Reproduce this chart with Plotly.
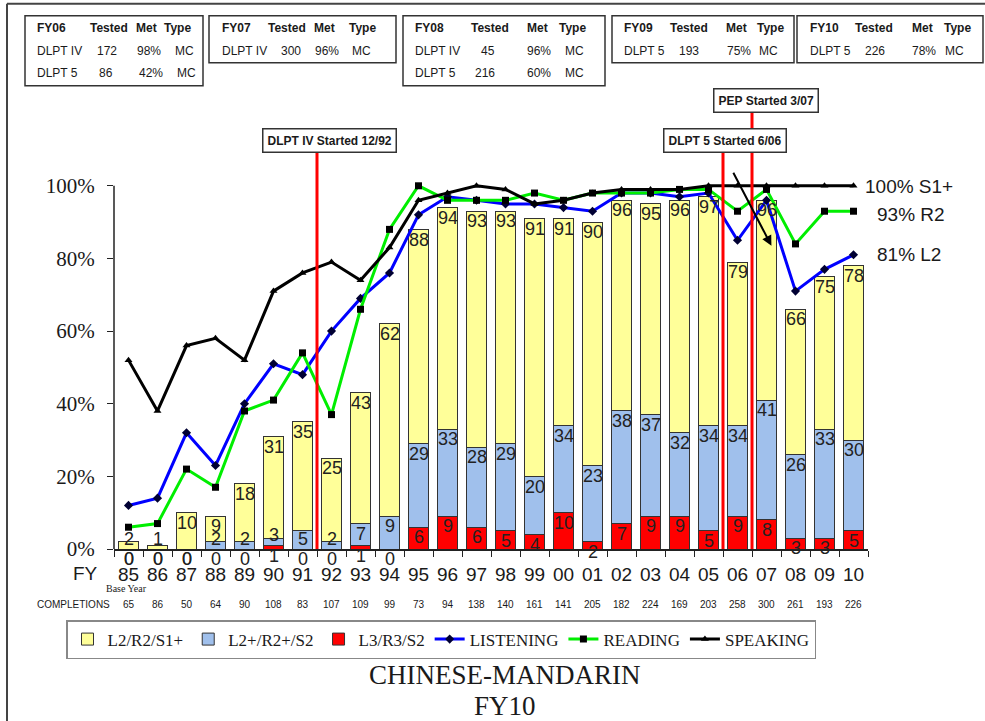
import plotly.graph_objects as go

# ---------------- data ----------------
years = ["85", "86", "87", "88", "89", "90", "91", "92", "93", "94", "95", "96", "97",
         "98", "99", "00", "01", "02", "03", "04", "05", "06", "07", "08", "09", "10"]
l2_pct = [2, 1, 10, 9, 18, 31, 35, 25, 43, 62, 88, 94, 93, 93, 91, 91, 90, 96, 95, 96, 97, 79, 96, 66, 75, 78]
l2plus_pct = [0, 0, 0, 2, 2, 3, 5, 2, 7, 9, 29, 33, 28, 29, 20, 34, 23, 38, 37, 32, 34, 34, 41, 26, 33, 30]
l3_pct = [0, 0, 0, 0, 0, 1, 0, 0, 1, 0, 6, 9, 6, 5, 4, 10, 2, 7, 9, 9, 5, 9, 8, 3, 3, 5]
listening = [12, 14, 32, 23, 40, 51, 48, 60, 69, 76, 92, 97, 96, 95, 95, 94, 93, 98, 98, 97, 98, 85, 96, 71, 77, 81]
reading = [6, 7, 22, 17, 38, 41, 54, 37, 66, 88, 100, 96, 96, 96, 98, 96, 98, 98, 98, 99, 99, 93, 99, 84, 93, 93]
speaking = [52, 38, 56, 58, 52, 71, 76, 79, 74, 83, 96, 98, 100, 99, 95, 96, 98, 99, 99, 99, 100, 100, 100, 100, 100, 100]
completions = [65, 86, 50, 64, 90, 108, 83, 107, 109, 99, 73, 94, 138, 140, 161, 141, 205, 182, 224, 169, 203,
               258, 300, 261, 193, 226]

y_ticks = [0, 20, 40, 60, 80, 100]
y_tick_text = ["0%", "20%", "40%", "60%", "80%", "100%"]

end_labels = ["100% S1+", "93% R2", "81% L2"]

box_headers = [["FY06", "Tested", "Met", "Type"],
               ["FY07", "Tested", "Met", "Type"],
               ["FY08", "Tested", "Met", "Type"],
               ["FY09", "Tested", "Met", "Type"],
               ["FY10", "Tested", "Met", "Type"]]
box_rows = [[["DLPT IV", "172", "98%", "MC"], ["DLPT 5", "86", "42%", "MC"]],
            [["DLPT IV", "300", "96%", "MC"]],
            [["DLPT IV", "45", "96%", "MC"], ["DLPT 5", "216", "60%", "MC"]],
            [["DLPT 5", "193", "75%", "MC"]],
            [["DLPT 5", "226", "78%", "MC"]]]

events = ["DLPT IV Started 12/92", "DLPT 5 Started 6/06", "PEP Started 3/07"]
event_pos = [6.5, 20.5, 21.5]  # category-axis positions between years

# ---------------- layout geometry (pixels) ----------------
W, H = 985, 721
L, R, T, B = 114, 868, 186, 549
YMAX = 100
YTOP = 106  # axis range top, so lines at 100% are not clipped
T_EFF = B - (B - T) * YTOP / YMAX


def px(x):
    return (x - L) / (R - L)


def py(y):
    return (B - y) / (B - T_EFF)


SANS = "Liberation Sans, Arial, sans-serif"
SERIF = "Liberation Serif, Times New Roman, serif"
INK = "#1a1a1a"

fig = go.Figure()

# stacked segments
red_seg = l3_pct
blue_seg = [b - r for b, r in zip(l2plus_pct, l3_pct)]
yellow_seg = [y - b for y, b in zip(l2_pct, l2plus_pct)]

fig.add_trace(go.Bar(x=years, y=red_seg, name="L3/R3/S2", marker=dict(color="#FF0000", line=dict(color="#333", width=1)),
                     legendrank=3, hoverinfo="skip"))
fig.add_trace(go.Bar(x=years, y=blue_seg, name="L2+/R2+/S2", marker=dict(color="#A0C0EC", line=dict(color="#333", width=1)),
                     legendrank=2, hoverinfo="skip"))
fig.add_trace(go.Bar(x=years, y=yellow_seg, name="L2/R2/S1+", marker=dict(color="#FFFF99", line=dict(color="#333", width=1)),
                     legendrank=1, hoverinfo="skip"))

# lines
fig.add_trace(go.Scatter(x=years, y=listening, name="LISTENING", mode="lines+markers",
                         line=dict(color="#0000FF", width=3),
                         marker=dict(symbol="diamond", size=7, color="#000033"),
                         legendrank=4, cliponaxis=False))
fig.add_trace(go.Scatter(x=years, y=reading, name="READING", mode="lines+markers",
                         line=dict(color="#00EE00", width=3),
                         marker=dict(symbol="square", size=7, color="#000000"),
                         legendrank=5, cliponaxis=False))
fig.add_trace(go.Scatter(x=years, y=speaking, name="SPEAKING", mode="lines+markers",
                         line=dict(color="#000000", width=3),
                         marker=dict(symbol="triangle-up", size=7, color="#000000"),
                         legendrank=6, cliponaxis=False))

shapes = []
annotations = []

# value labels (paper y so labels below the axis stay visible)
OFF = 2.8


def label_y(top, bottom, clamp):
    if top == bottom or not clamp:
        return top - OFF
    return max(top - OFF, bottom + OFF)


for i in range(len(years)):
    for val, yy in ((l3_pct[i], label_y(l3_pct[i], 0, False)),
                    (l2plus_pct[i], label_y(l2plus_pct[i], l3_pct[i], True)),
                    (l2_pct[i], label_y(l2_pct[i], l2plus_pct[i], True))):
        annotations.append(dict(xref="x", yref="paper", x=i, y=yy / YTOP, text=str(val), showarrow=False,
                                xanchor="center", yanchor="middle",
                                font=dict(family=SANS, size=18, color="#222")))

# y axis line (0..100 only)
shapes.append(dict(type="line", xref="paper", yref="y", x0=0, x1=0, y0=0, y1=YMAX,
                   line=dict(color="#222", width=1.5), layer="above"))

# outer frame
shapes.append(dict(type="line", xref="paper", yref="paper", x0=px(7), x1=px(W + 5), y0=py(4), y1=py(4),
                   line=dict(color="#444", width=2)))
shapes.append(dict(type="line", xref="paper", yref="paper", x0=px(7), x1=px(7), y0=py(4), y1=py(H + 5),
                   line=dict(color="#444", width=2)))

# info boxes
box_rects = [(25, 203, 16, 86), (209, 396, 16, 63), (403, 605, 16, 86), (612, 794, 16, 63), (797, 983, 16, 63)]
head_cols = [[35, 88, 134, 162], [220, 266, 312, 347], [413, 469, 525, 557], [622, 668, 724, 755],
             [808, 853, 910, 942]]
row_cols = [[[35, 95, 135, 173], [35, 97, 137, 175]], [[220, 279, 313, 350]],
            [[413, 479, 525, 563], [413, 473, 525, 563]], [[622, 677, 725, 757]], [[808, 863, 910, 943]]]
row_ys = [28, 51, 73]
for bi, (x0, x1, y0, y1) in enumerate(box_rects):
    shapes.append(dict(type="rect", xref="paper", yref="paper", x0=px(x0), x1=px(x1), y0=py(y0), y1=py(y1),
                       line=dict(color="#333", width=1.5), fillcolor="white", layer="below"))
    for ci, txt in enumerate(box_headers[bi]):
        annotations.append(dict(xref="paper", yref="paper", x=px(head_cols[bi][ci]), y=py(row_ys[0]),
                                text="<b>" + txt + "</b>", showarrow=False, xanchor="left", yanchor="middle",
                                font=dict(family=SANS, size=12, color=INK)))
    for ri, row in enumerate(box_rows[bi]):
        for ci, txt in enumerate(row):
            annotations.append(dict(xref="paper", yref="paper", x=px(row_cols[bi][ri][ci]), y=py(row_ys[ri + 1]),
                                    text=txt, showarrow=False, xanchor="left", yanchor="middle",
                                    font=dict(family=SANS, size=12, color=INK)))

# event lines and labels
event_top = [153, 153, 113]
event_box_center = [(329, 141), (725, 141), (766, 101)]
for k, ev in enumerate(events):
    shapes.append(dict(type="line", xref="x", yref="paper", x0=event_pos[k], x1=event_pos[k],
                       y0=0, y1=py(event_top[k]), line=dict(color="#FF0000", width=3), layer="above"))
for k, ev in enumerate(events):
    cx, cy = event_box_center[k]
    annotations.append(dict(xref="paper", yref="paper", x=px(cx), y=py(cy), text="<b>" + ev + "</b>",
                            showarrow=False, xanchor="center", yanchor="middle",
                            font=dict(family=SANS, size=12, color=INK), bgcolor="white",
                            bordercolor="#333", borderwidth=1.5, borderpad=4))

# arrow near 06/07
annotations.append(dict(xref="x", yref="y", axref="x", ayref="y", x=22.17, y=83.5, ax=20.83, ay=104,
                        showarrow=True, arrowhead=2, arrowsize=1, arrowwidth=2, arrowcolor="#000", text=""))

# series end labels
end_pos = [(863, 187), (875, 215), (875, 255)]
for k, t in enumerate(end_labels):
    annotations.append(dict(xref="paper", yref="paper", x=px(end_pos[k][0]), y=py(end_pos[k][1]), text=t,
                            showarrow=False, xanchor="left", yanchor="middle",
                            font=dict(family=SANS, size=19, color=INK)))

# x-axis extras
annotations.append(dict(xref="paper", yref="paper", x=px(85), y=py(573), text="FY", showarrow=False,
                        xanchor="center", yanchor="middle", font=dict(family=SANS, size=19, color=INK)))
annotations.append(dict(xref="paper", yref="paper", x=px(126), y=py(588), text="Base Year", showarrow=False,
                        xanchor="center", yanchor="middle", font=dict(family=SERIF, size=10, color=INK)))
annotations.append(dict(xref="paper", yref="paper", x=px(73), y=py(604), text="COMPLETIONS", showarrow=False,
                        xanchor="center", yanchor="middle", font=dict(family=SANS, size=10, color=INK)))
for i, c in enumerate(completions):
    annotations.append(dict(xref="x", yref="paper", x=i, y=py(604), text=str(c), showarrow=False,
                            xanchor="center", yanchor="middle", font=dict(family=SANS, size=10, color=INK)))

# title
annotations.append(dict(xref="paper", yref="paper", x=px(505), y=py(675), text="CHINESE-MANDARIN", showarrow=False,
                        xanchor="center", yanchor="middle", font=dict(family=SERIF, size=27, color=INK)))
annotations.append(dict(xref="paper", yref="paper", x=px(505), y=py(706), text="FY10", showarrow=False,
                        xanchor="center", yanchor="middle", font=dict(family=SERIF, size=27, color=INK)))

fig.update_layout(
    width=W, height=H, autosize=False,
    margin=dict(l=L, r=W - R, t=T_EFF, b=H - B, pad=0),
    paper_bgcolor="white", plot_bgcolor="white",
    barmode="stack", bargap=0.31,
    shapes=shapes, annotations=annotations,
    showlegend=True,
    legend=dict(orientation="h", x=px(66), y=py(620), xanchor="left", yanchor="top",
                bordercolor="#888", borderwidth=1.5, bgcolor="white",
                font=dict(family=SERIF, size=17, color=INK), traceorder="normal",
                itemwidth=30, tracegroupgap=0),
    xaxis=dict(type="category", range=[-0.5, len(years) - 0.5], showline=True, linecolor="#222", linewidth=1.5,
               ticks="outside", tickson="boundaries", ticklen=6, tickcolor="#222", tickangle=0,
               tickfont=dict(family=SANS, size=19, color=INK), ticklabelstandoff=7, showgrid=False,
               zeroline=False, fixedrange=True),
    yaxis=dict(range=[0, YTOP], tickvals=y_ticks, ticktext=y_tick_text, showline=False,
               ticks="outside", ticklen=6, tickcolor="#222",
               tickfont=dict(family=SERIF, size=21, color=INK), showgrid=False, zeroline=False,
               ticklabelstandoff=8, fixedrange=True),
)

fig.write_html("out.html", config={"displayModeBar": False},
               post_script="document.body.style.margin='0';")
